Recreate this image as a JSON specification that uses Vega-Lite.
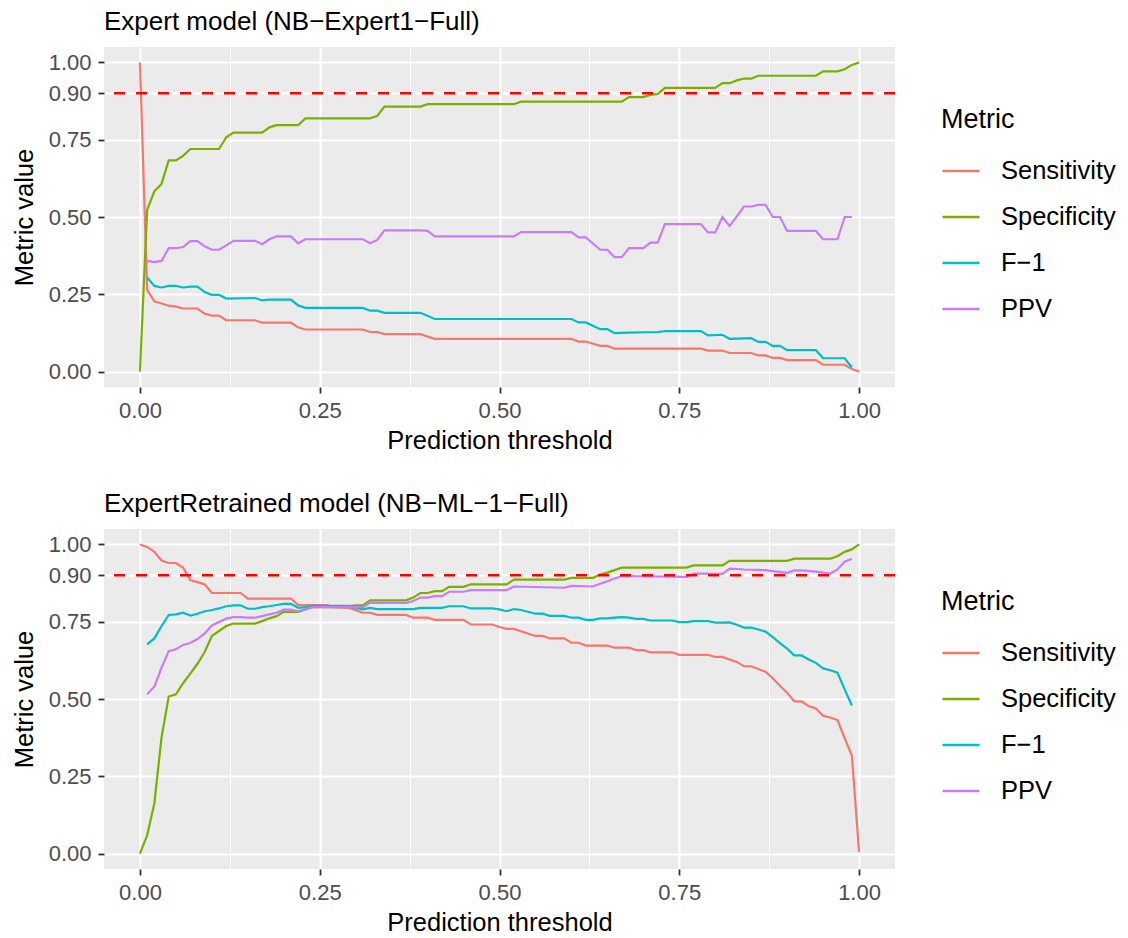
{
  "$schema": "https://vega.github.io/schema/vega-lite/v6.json",
  "padding": {"left": 12, "top": 9, "right": 0, "bottom": 0},
  "config": {
    "font": "Liberation Sans",
    "view": {"fill": "#EBEBEB", "stroke": null},
    "axis": {"domain": false, "gridColor": "#FFFFFF", "tickColor": "#333333", "tickWidth": 1.8, "tickSize": 6, "labelColor": "#4D4D4D", "labelFontSize": 22, "titleFontSize": 25.5, "titleFontWeight": "normal", "titleColor": "#000000", "labelOverlap": false, "labelFlush": false, "labelBound": false},
    "axisX": {"labelPadding": 7, "titlePadding": 7},
    "axisY": {"labelPadding": 7, "titlePadding": 11},
    "title": {"anchor": "start", "fontSize": 26, "fontWeight": "normal", "color": "#000000", "offset": 12, "frame": "group"},
    "legend": {"orient": "none", "legendX": 837, "legendY": 60, "direction": "vertical", "titleFontSize": 27, "titleFontWeight": "normal", "titleColor": "#000000", "labelFontSize": 25.5, "labelColor": "#000000", "symbolType": "stroke", "symbolSize": 1369, "symbolStrokeWidth": 2.5, "clipHeight": 44, "rowPadding": 2, "titlePadding": 15, "labelOffset": 20, "padding": 0},
    "concat": {"spacing": 37}
  },
  "resolve": {"scale": {"color": "independent"}, "legend": {"color": "independent"}},
  "datasets": {
    "expert": [
      {"threshold": 0, "metric": "Sensitivity", "value": 1.0},
      {"threshold": 0.01, "metric": "Sensitivity", "value": 0.264},
      {"threshold": 0.02, "metric": "Sensitivity", "value": 0.227},
      {"threshold": 0.03, "metric": "Sensitivity", "value": 0.22},
      {"threshold": 0.04, "metric": "Sensitivity", "value": 0.213},
      {"threshold": 0.05, "metric": "Sensitivity", "value": 0.21},
      {"threshold": 0.06, "metric": "Sensitivity", "value": 0.204},
      {"threshold": 0.08, "metric": "Sensitivity", "value": 0.204},
      {"threshold": 0.09, "metric": "Sensitivity", "value": 0.187},
      {"threshold": 0.10, "metric": "Sensitivity", "value": 0.181},
      {"threshold": 0.11, "metric": "Sensitivity", "value": 0.181},
      {"threshold": 0.12, "metric": "Sensitivity", "value": 0.166},
      {"threshold": 0.16, "metric": "Sensitivity", "value": 0.166},
      {"threshold": 0.17, "metric": "Sensitivity", "value": 0.158},
      {"threshold": 0.21, "metric": "Sensitivity", "value": 0.158},
      {"threshold": 0.22, "metric": "Sensitivity", "value": 0.143},
      {"threshold": 0.23, "metric": "Sensitivity", "value": 0.136},
      {"threshold": 0.31, "metric": "Sensitivity", "value": 0.136},
      {"threshold": 0.32, "metric": "Sensitivity", "value": 0.128},
      {"threshold": 0.33, "metric": "Sensitivity", "value": 0.128},
      {"threshold": 0.34, "metric": "Sensitivity", "value": 0.121},
      {"threshold": 0.39, "metric": "Sensitivity", "value": 0.121},
      {"threshold": 0.41, "metric": "Sensitivity", "value": 0.106},
      {"threshold": 0.60, "metric": "Sensitivity", "value": 0.106},
      {"threshold": 0.61, "metric": "Sensitivity", "value": 0.097},
      {"threshold": 0.62, "metric": "Sensitivity", "value": 0.097},
      {"threshold": 0.64, "metric": "Sensitivity", "value": 0.083},
      {"threshold": 0.65, "metric": "Sensitivity", "value": 0.083},
      {"threshold": 0.66, "metric": "Sensitivity", "value": 0.074},
      {"threshold": 0.78, "metric": "Sensitivity", "value": 0.074},
      {"threshold": 0.79, "metric": "Sensitivity", "value": 0.068},
      {"threshold": 0.81, "metric": "Sensitivity", "value": 0.068},
      {"threshold": 0.82, "metric": "Sensitivity", "value": 0.060},
      {"threshold": 0.85, "metric": "Sensitivity", "value": 0.060},
      {"threshold": 0.86, "metric": "Sensitivity", "value": 0.052},
      {"threshold": 0.87, "metric": "Sensitivity", "value": 0.052},
      {"threshold": 0.88, "metric": "Sensitivity", "value": 0.044},
      {"threshold": 0.89, "metric": "Sensitivity", "value": 0.044},
      {"threshold": 0.90, "metric": "Sensitivity", "value": 0.037},
      {"threshold": 0.94, "metric": "Sensitivity", "value": 0.037},
      {"threshold": 0.95, "metric": "Sensitivity", "value": 0.022},
      {"threshold": 0.98, "metric": "Sensitivity", "value": 0.022},
      {"threshold": 0.99, "metric": "Sensitivity", "value": 0.008},
      {"threshold": 1.0, "metric": "Sensitivity", "value": 0.0},
      {"threshold": 0, "metric": "Specificity", "value": 0.0},
      {"threshold": 0.01, "metric": "Specificity", "value": 0.523},
      {"threshold": 0.02, "metric": "Specificity", "value": 0.583},
      {"threshold": 0.03, "metric": "Specificity", "value": 0.607},
      {"threshold": 0.04, "metric": "Specificity", "value": 0.683},
      {"threshold": 0.05, "metric": "Specificity", "value": 0.683},
      {"threshold": 0.06, "metric": "Specificity", "value": 0.698},
      {"threshold": 0.07, "metric": "Specificity", "value": 0.72},
      {"threshold": 0.11, "metric": "Specificity", "value": 0.72},
      {"threshold": 0.12, "metric": "Specificity", "value": 0.758},
      {"threshold": 0.13, "metric": "Specificity", "value": 0.773},
      {"threshold": 0.17, "metric": "Specificity", "value": 0.773},
      {"threshold": 0.18, "metric": "Specificity", "value": 0.79},
      {"threshold": 0.19, "metric": "Specificity", "value": 0.797},
      {"threshold": 0.22, "metric": "Specificity", "value": 0.797},
      {"threshold": 0.23, "metric": "Specificity", "value": 0.819},
      {"threshold": 0.32, "metric": "Specificity", "value": 0.819},
      {"threshold": 0.33, "metric": "Specificity", "value": 0.827},
      {"threshold": 0.34, "metric": "Specificity", "value": 0.857},
      {"threshold": 0.39, "metric": "Specificity", "value": 0.857},
      {"threshold": 0.40, "metric": "Specificity", "value": 0.865},
      {"threshold": 0.52, "metric": "Specificity", "value": 0.865},
      {"threshold": 0.53, "metric": "Specificity", "value": 0.873},
      {"threshold": 0.67, "metric": "Specificity", "value": 0.873},
      {"threshold": 0.68, "metric": "Specificity", "value": 0.888},
      {"threshold": 0.70, "metric": "Specificity", "value": 0.888},
      {"threshold": 0.71, "metric": "Specificity", "value": 0.895},
      {"threshold": 0.72, "metric": "Specificity", "value": 0.898},
      {"threshold": 0.73, "metric": "Specificity", "value": 0.918},
      {"threshold": 0.80, "metric": "Specificity", "value": 0.918},
      {"threshold": 0.81, "metric": "Specificity", "value": 0.933},
      {"threshold": 0.82, "metric": "Specificity", "value": 0.933},
      {"threshold": 0.83, "metric": "Specificity", "value": 0.942},
      {"threshold": 0.84, "metric": "Specificity", "value": 0.948},
      {"threshold": 0.85, "metric": "Specificity", "value": 0.948},
      {"threshold": 0.86, "metric": "Specificity", "value": 0.957},
      {"threshold": 0.94, "metric": "Specificity", "value": 0.957},
      {"threshold": 0.95, "metric": "Specificity", "value": 0.971},
      {"threshold": 0.97, "metric": "Specificity", "value": 0.971},
      {"threshold": 0.98, "metric": "Specificity", "value": 0.978},
      {"threshold": 0.99, "metric": "Specificity", "value": 0.992},
      {"threshold": 1.0, "metric": "Specificity", "value": 1.0},
      {"threshold": 0.01, "metric": "F−1", "value": 0.304},
      {"threshold": 0.02, "metric": "F−1", "value": 0.277},
      {"threshold": 0.03, "metric": "F−1", "value": 0.272},
      {"threshold": 0.04, "metric": "F−1", "value": 0.277},
      {"threshold": 0.05, "metric": "F−1", "value": 0.277},
      {"threshold": 0.06, "metric": "F−1", "value": 0.272},
      {"threshold": 0.07, "metric": "F−1", "value": 0.275},
      {"threshold": 0.08, "metric": "F−1", "value": 0.275},
      {"threshold": 0.09, "metric": "F−1", "value": 0.257},
      {"threshold": 0.10, "metric": "F−1", "value": 0.248},
      {"threshold": 0.11, "metric": "F−1", "value": 0.248},
      {"threshold": 0.12, "metric": "F−1", "value": 0.236},
      {"threshold": 0.16, "metric": "F−1", "value": 0.238},
      {"threshold": 0.17, "metric": "F−1", "value": 0.230},
      {"threshold": 0.18, "metric": "F−1", "value": 0.233},
      {"threshold": 0.21, "metric": "F−1", "value": 0.233},
      {"threshold": 0.22, "metric": "F−1", "value": 0.214},
      {"threshold": 0.23, "metric": "F−1", "value": 0.206},
      {"threshold": 0.31, "metric": "F−1", "value": 0.206},
      {"threshold": 0.32, "metric": "F−1", "value": 0.197},
      {"threshold": 0.33, "metric": "F−1", "value": 0.197},
      {"threshold": 0.34, "metric": "F−1", "value": 0.190},
      {"threshold": 0.39, "metric": "F−1", "value": 0.190},
      {"threshold": 0.41, "metric": "F−1", "value": 0.170},
      {"threshold": 0.60, "metric": "F−1", "value": 0.170},
      {"threshold": 0.61, "metric": "F−1", "value": 0.159},
      {"threshold": 0.62, "metric": "F−1", "value": 0.159},
      {"threshold": 0.64, "metric": "F−1", "value": 0.137},
      {"threshold": 0.65, "metric": "F−1", "value": 0.137},
      {"threshold": 0.66, "metric": "F−1", "value": 0.124},
      {"threshold": 0.68, "metric": "F−1", "value": 0.126},
      {"threshold": 0.72, "metric": "F−1", "value": 0.128},
      {"threshold": 0.73, "metric": "F−1", "value": 0.131},
      {"threshold": 0.78, "metric": "F−1", "value": 0.131},
      {"threshold": 0.79, "metric": "F−1", "value": 0.117},
      {"threshold": 0.81, "metric": "F−1", "value": 0.119},
      {"threshold": 0.82, "metric": "F−1", "value": 0.106},
      {"threshold": 0.85, "metric": "F−1", "value": 0.108},
      {"threshold": 0.86, "metric": "F−1", "value": 0.096},
      {"threshold": 0.87, "metric": "F−1", "value": 0.096},
      {"threshold": 0.88, "metric": "F−1", "value": 0.083},
      {"threshold": 0.89, "metric": "F−1", "value": 0.083},
      {"threshold": 0.90, "metric": "F−1", "value": 0.069},
      {"threshold": 0.94, "metric": "F−1", "value": 0.069},
      {"threshold": 0.95, "metric": "F−1", "value": 0.043},
      {"threshold": 0.98, "metric": "F−1", "value": 0.043},
      {"threshold": 0.99, "metric": "F−1", "value": 0.013},
      {"threshold": 0.01, "metric": "PPV", "value": 0.358},
      {"threshold": 0.02, "metric": "PPV", "value": 0.354},
      {"threshold": 0.03, "metric": "PPV", "value": 0.358},
      {"threshold": 0.04, "metric": "PPV", "value": 0.399},
      {"threshold": 0.05, "metric": "PPV", "value": 0.399},
      {"threshold": 0.06, "metric": "PPV", "value": 0.403},
      {"threshold": 0.07, "metric": "PPV", "value": 0.422},
      {"threshold": 0.08, "metric": "PPV", "value": 0.422},
      {"threshold": 0.09, "metric": "PPV", "value": 0.405},
      {"threshold": 0.10, "metric": "PPV", "value": 0.394},
      {"threshold": 0.11, "metric": "PPV", "value": 0.394},
      {"threshold": 0.12, "metric": "PPV", "value": 0.408},
      {"threshold": 0.13, "metric": "PPV", "value": 0.423},
      {"threshold": 0.16, "metric": "PPV", "value": 0.423},
      {"threshold": 0.17, "metric": "PPV", "value": 0.412},
      {"threshold": 0.18, "metric": "PPV", "value": 0.428},
      {"threshold": 0.19, "metric": "PPV", "value": 0.437},
      {"threshold": 0.21, "metric": "PPV", "value": 0.437},
      {"threshold": 0.22, "metric": "PPV", "value": 0.415},
      {"threshold": 0.23, "metric": "PPV", "value": 0.428},
      {"threshold": 0.31, "metric": "PPV", "value": 0.428},
      {"threshold": 0.32, "metric": "PPV", "value": 0.415},
      {"threshold": 0.33, "metric": "PPV", "value": 0.426},
      {"threshold": 0.34, "metric": "PPV", "value": 0.457},
      {"threshold": 0.39, "metric": "PPV", "value": 0.457},
      {"threshold": 0.40, "metric": "PPV", "value": 0.455},
      {"threshold": 0.41, "metric": "PPV", "value": 0.437},
      {"threshold": 0.52, "metric": "PPV", "value": 0.437},
      {"threshold": 0.53, "metric": "PPV", "value": 0.451},
      {"threshold": 0.60, "metric": "PPV", "value": 0.451},
      {"threshold": 0.61, "metric": "PPV", "value": 0.434},
      {"threshold": 0.62, "metric": "PPV", "value": 0.434},
      {"threshold": 0.64, "metric": "PPV", "value": 0.394},
      {"threshold": 0.65, "metric": "PPV", "value": 0.394},
      {"threshold": 0.66, "metric": "PPV", "value": 0.370},
      {"threshold": 0.67, "metric": "PPV", "value": 0.370},
      {"threshold": 0.68, "metric": "PPV", "value": 0.399},
      {"threshold": 0.70, "metric": "PPV", "value": 0.399},
      {"threshold": 0.71, "metric": "PPV", "value": 0.417},
      {"threshold": 0.72, "metric": "PPV", "value": 0.417},
      {"threshold": 0.73, "metric": "PPV", "value": 0.477},
      {"threshold": 0.78, "metric": "PPV", "value": 0.477},
      {"threshold": 0.79, "metric": "PPV", "value": 0.450},
      {"threshold": 0.80, "metric": "PPV", "value": 0.450},
      {"threshold": 0.81, "metric": "PPV", "value": 0.500},
      {"threshold": 0.82, "metric": "PPV", "value": 0.471},
      {"threshold": 0.83, "metric": "PPV", "value": 0.502},
      {"threshold": 0.84, "metric": "PPV", "value": 0.534},
      {"threshold": 0.85, "metric": "PPV", "value": 0.534},
      {"threshold": 0.86, "metric": "PPV", "value": 0.539},
      {"threshold": 0.87, "metric": "PPV", "value": 0.539},
      {"threshold": 0.88, "metric": "PPV", "value": 0.500},
      {"threshold": 0.89, "metric": "PPV", "value": 0.500},
      {"threshold": 0.90, "metric": "PPV", "value": 0.455},
      {"threshold": 0.94, "metric": "PPV", "value": 0.455},
      {"threshold": 0.95, "metric": "PPV", "value": 0.428},
      {"threshold": 0.97, "metric": "PPV", "value": 0.428},
      {"threshold": 0.98, "metric": "PPV", "value": 0.500},
      {"threshold": 0.99, "metric": "PPV", "value": 0.500}
    ],
    "retrained": [
      {"threshold": 0, "metric": "Sensitivity", "value": 1.0},
      {"threshold": 0.01, "metric": "Sensitivity", "value": 0.992},
      {"threshold": 0.02, "metric": "Sensitivity", "value": 0.976},
      {"threshold": 0.03, "metric": "Sensitivity", "value": 0.948},
      {"threshold": 0.04, "metric": "Sensitivity", "value": 0.940},
      {"threshold": 0.05, "metric": "Sensitivity", "value": 0.940},
      {"threshold": 0.06, "metric": "Sensitivity", "value": 0.925},
      {"threshold": 0.07, "metric": "Sensitivity", "value": 0.885},
      {"threshold": 0.08, "metric": "Sensitivity", "value": 0.878},
      {"threshold": 0.09, "metric": "Sensitivity", "value": 0.871},
      {"threshold": 0.10, "metric": "Sensitivity", "value": 0.843},
      {"threshold": 0.14, "metric": "Sensitivity", "value": 0.843},
      {"threshold": 0.15, "metric": "Sensitivity", "value": 0.825},
      {"threshold": 0.21, "metric": "Sensitivity", "value": 0.825},
      {"threshold": 0.22, "metric": "Sensitivity", "value": 0.804},
      {"threshold": 0.26, "metric": "Sensitivity", "value": 0.804},
      {"threshold": 0.27, "metric": "Sensitivity", "value": 0.797},
      {"threshold": 0.29, "metric": "Sensitivity", "value": 0.795},
      {"threshold": 0.30, "metric": "Sensitivity", "value": 0.787},
      {"threshold": 0.31, "metric": "Sensitivity", "value": 0.779},
      {"threshold": 0.32, "metric": "Sensitivity", "value": 0.779},
      {"threshold": 0.33, "metric": "Sensitivity", "value": 0.772},
      {"threshold": 0.37, "metric": "Sensitivity", "value": 0.772},
      {"threshold": 0.38, "metric": "Sensitivity", "value": 0.763},
      {"threshold": 0.40, "metric": "Sensitivity", "value": 0.763},
      {"threshold": 0.41, "metric": "Sensitivity", "value": 0.756},
      {"threshold": 0.45, "metric": "Sensitivity", "value": 0.756},
      {"threshold": 0.46, "metric": "Sensitivity", "value": 0.741},
      {"threshold": 0.49, "metric": "Sensitivity", "value": 0.741},
      {"threshold": 0.50, "metric": "Sensitivity", "value": 0.733},
      {"threshold": 0.51, "metric": "Sensitivity", "value": 0.727},
      {"threshold": 0.52, "metric": "Sensitivity", "value": 0.727},
      {"threshold": 0.55, "metric": "Sensitivity", "value": 0.704},
      {"threshold": 0.56, "metric": "Sensitivity", "value": 0.704},
      {"threshold": 0.57, "metric": "Sensitivity", "value": 0.696},
      {"threshold": 0.59, "metric": "Sensitivity", "value": 0.696},
      {"threshold": 0.60, "metric": "Sensitivity", "value": 0.682},
      {"threshold": 0.61, "metric": "Sensitivity", "value": 0.682},
      {"threshold": 0.62, "metric": "Sensitivity", "value": 0.673},
      {"threshold": 0.65, "metric": "Sensitivity", "value": 0.673},
      {"threshold": 0.66, "metric": "Sensitivity", "value": 0.666},
      {"threshold": 0.68, "metric": "Sensitivity", "value": 0.666},
      {"threshold": 0.69, "metric": "Sensitivity", "value": 0.658},
      {"threshold": 0.70, "metric": "Sensitivity", "value": 0.658},
      {"threshold": 0.71, "metric": "Sensitivity", "value": 0.651},
      {"threshold": 0.74, "metric": "Sensitivity", "value": 0.651},
      {"threshold": 0.75, "metric": "Sensitivity", "value": 0.643},
      {"threshold": 0.79, "metric": "Sensitivity", "value": 0.643},
      {"threshold": 0.80, "metric": "Sensitivity", "value": 0.636},
      {"threshold": 0.81, "metric": "Sensitivity", "value": 0.636},
      {"threshold": 0.82, "metric": "Sensitivity", "value": 0.628},
      {"threshold": 0.83, "metric": "Sensitivity", "value": 0.620},
      {"threshold": 0.84, "metric": "Sensitivity", "value": 0.606},
      {"threshold": 0.85, "metric": "Sensitivity", "value": 0.606},
      {"threshold": 0.86, "metric": "Sensitivity", "value": 0.597},
      {"threshold": 0.87, "metric": "Sensitivity", "value": 0.588},
      {"threshold": 0.88, "metric": "Sensitivity", "value": 0.567},
      {"threshold": 0.89, "metric": "Sensitivity", "value": 0.543},
      {"threshold": 0.90, "metric": "Sensitivity", "value": 0.520},
      {"threshold": 0.91, "metric": "Sensitivity", "value": 0.492},
      {"threshold": 0.92, "metric": "Sensitivity", "value": 0.492},
      {"threshold": 0.93, "metric": "Sensitivity", "value": 0.477},
      {"threshold": 0.94, "metric": "Sensitivity", "value": 0.469},
      {"threshold": 0.95, "metric": "Sensitivity", "value": 0.446},
      {"threshold": 0.96, "metric": "Sensitivity", "value": 0.440},
      {"threshold": 0.97, "metric": "Sensitivity", "value": 0.432},
      {"threshold": 0.98, "metric": "Sensitivity", "value": 0.373},
      {"threshold": 0.99, "metric": "Sensitivity", "value": 0.317},
      {"threshold": 1.0, "metric": "Sensitivity", "value": 0.005},
      {"threshold": 0, "metric": "Specificity", "value": 0.0},
      {"threshold": 0.01, "metric": "Specificity", "value": 0.059},
      {"threshold": 0.02, "metric": "Specificity", "value": 0.162},
      {"threshold": 0.03, "metric": "Specificity", "value": 0.375},
      {"threshold": 0.04, "metric": "Specificity", "value": 0.508},
      {"threshold": 0.05, "metric": "Specificity", "value": 0.515},
      {"threshold": 0.06, "metric": "Specificity", "value": 0.551},
      {"threshold": 0.07, "metric": "Specificity", "value": 0.582},
      {"threshold": 0.08, "metric": "Specificity", "value": 0.614},
      {"threshold": 0.09, "metric": "Specificity", "value": 0.652},
      {"threshold": 0.10, "metric": "Specificity", "value": 0.704},
      {"threshold": 0.11, "metric": "Specificity", "value": 0.720},
      {"threshold": 0.12, "metric": "Specificity", "value": 0.736},
      {"threshold": 0.13, "metric": "Specificity", "value": 0.744},
      {"threshold": 0.16, "metric": "Specificity", "value": 0.744},
      {"threshold": 0.17, "metric": "Specificity", "value": 0.752},
      {"threshold": 0.18, "metric": "Specificity", "value": 0.761},
      {"threshold": 0.19, "metric": "Specificity", "value": 0.768},
      {"threshold": 0.20, "metric": "Specificity", "value": 0.782},
      {"threshold": 0.22, "metric": "Specificity", "value": 0.782},
      {"threshold": 0.23, "metric": "Specificity", "value": 0.790},
      {"threshold": 0.24, "metric": "Specificity", "value": 0.797},
      {"threshold": 0.28, "metric": "Specificity", "value": 0.797},
      {"threshold": 0.30, "metric": "Specificity", "value": 0.803},
      {"threshold": 0.31, "metric": "Specificity", "value": 0.803},
      {"threshold": 0.32, "metric": "Specificity", "value": 0.819},
      {"threshold": 0.37, "metric": "Specificity", "value": 0.819},
      {"threshold": 0.38, "metric": "Specificity", "value": 0.828},
      {"threshold": 0.39, "metric": "Specificity", "value": 0.843},
      {"threshold": 0.40, "metric": "Specificity", "value": 0.843},
      {"threshold": 0.41, "metric": "Specificity", "value": 0.849},
      {"threshold": 0.42, "metric": "Specificity", "value": 0.849},
      {"threshold": 0.43, "metric": "Specificity", "value": 0.863},
      {"threshold": 0.45, "metric": "Specificity", "value": 0.863},
      {"threshold": 0.46, "metric": "Specificity", "value": 0.871},
      {"threshold": 0.51, "metric": "Specificity", "value": 0.871},
      {"threshold": 0.52, "metric": "Specificity", "value": 0.886},
      {"threshold": 0.59, "metric": "Specificity", "value": 0.886},
      {"threshold": 0.60, "metric": "Specificity", "value": 0.892},
      {"threshold": 0.63, "metric": "Specificity", "value": 0.892},
      {"threshold": 0.64, "metric": "Specificity", "value": 0.903},
      {"threshold": 0.65, "metric": "Specificity", "value": 0.909},
      {"threshold": 0.66, "metric": "Specificity", "value": 0.917},
      {"threshold": 0.67, "metric": "Specificity", "value": 0.925},
      {"threshold": 0.76, "metric": "Specificity", "value": 0.925},
      {"threshold": 0.77, "metric": "Specificity", "value": 0.932},
      {"threshold": 0.81, "metric": "Specificity", "value": 0.932},
      {"threshold": 0.82, "metric": "Specificity", "value": 0.947},
      {"threshold": 0.90, "metric": "Specificity", "value": 0.947},
      {"threshold": 0.91, "metric": "Specificity", "value": 0.954},
      {"threshold": 0.96, "metric": "Specificity", "value": 0.954},
      {"threshold": 0.97, "metric": "Specificity", "value": 0.962},
      {"threshold": 0.98, "metric": "Specificity", "value": 0.976},
      {"threshold": 0.99, "metric": "Specificity", "value": 0.984},
      {"threshold": 1.0, "metric": "Specificity", "value": 1.0},
      {"threshold": 0.01, "metric": "F−1", "value": 0.677},
      {"threshold": 0.02, "metric": "F−1", "value": 0.696},
      {"threshold": 0.03, "metric": "F−1", "value": 0.736},
      {"threshold": 0.04, "metric": "F−1", "value": 0.772},
      {"threshold": 0.05, "metric": "F−1", "value": 0.774},
      {"threshold": 0.06, "metric": "F−1", "value": 0.779},
      {"threshold": 0.07, "metric": "F−1", "value": 0.770},
      {"threshold": 0.08, "metric": "F−1", "value": 0.776},
      {"threshold": 0.09, "metric": "F−1", "value": 0.784},
      {"threshold": 0.10, "metric": "F−1", "value": 0.788},
      {"threshold": 0.11, "metric": "F−1", "value": 0.793},
      {"threshold": 0.12, "metric": "F−1", "value": 0.800},
      {"threshold": 0.13, "metric": "F−1", "value": 0.803},
      {"threshold": 0.14, "metric": "F−1", "value": 0.803},
      {"threshold": 0.15, "metric": "F−1", "value": 0.792},
      {"threshold": 0.16, "metric": "F−1", "value": 0.792},
      {"threshold": 0.17, "metric": "F−1", "value": 0.797},
      {"threshold": 0.18, "metric": "F−1", "value": 0.800},
      {"threshold": 0.19, "metric": "F−1", "value": 0.804},
      {"threshold": 0.20, "metric": "F−1", "value": 0.808},
      {"threshold": 0.21, "metric": "F−1", "value": 0.808},
      {"threshold": 0.22, "metric": "F−1", "value": 0.795},
      {"threshold": 0.23, "metric": "F−1", "value": 0.797},
      {"threshold": 0.24, "metric": "F−1", "value": 0.801},
      {"threshold": 0.29, "metric": "F−1", "value": 0.801},
      {"threshold": 0.30, "metric": "F−1", "value": 0.795},
      {"threshold": 0.31, "metric": "F−1", "value": 0.790},
      {"threshold": 0.32, "metric": "F−1", "value": 0.795},
      {"threshold": 0.33, "metric": "F−1", "value": 0.791},
      {"threshold": 0.38, "metric": "F−1", "value": 0.791},
      {"threshold": 0.39, "metric": "F−1", "value": 0.795},
      {"threshold": 0.42, "metric": "F−1", "value": 0.795},
      {"threshold": 0.43, "metric": "F−1", "value": 0.800},
      {"threshold": 0.45, "metric": "F−1", "value": 0.800},
      {"threshold": 0.46, "metric": "F−1", "value": 0.793},
      {"threshold": 0.49, "metric": "F−1", "value": 0.793},
      {"threshold": 0.50, "metric": "F−1", "value": 0.790},
      {"threshold": 0.51, "metric": "F−1", "value": 0.784},
      {"threshold": 0.52, "metric": "F−1", "value": 0.791},
      {"threshold": 0.53, "metric": "F−1", "value": 0.788},
      {"threshold": 0.55, "metric": "F−1", "value": 0.776},
      {"threshold": 0.56, "metric": "F−1", "value": 0.776},
      {"threshold": 0.57, "metric": "F−1", "value": 0.769},
      {"threshold": 0.59, "metric": "F−1", "value": 0.769},
      {"threshold": 0.60, "metric": "F−1", "value": 0.763},
      {"threshold": 0.61, "metric": "F−1", "value": 0.763},
      {"threshold": 0.62, "metric": "F−1", "value": 0.756},
      {"threshold": 0.63, "metric": "F−1", "value": 0.756},
      {"threshold": 0.64, "metric": "F−1", "value": 0.761},
      {"threshold": 0.65, "metric": "F−1", "value": 0.761},
      {"threshold": 0.66, "metric": "F−1", "value": 0.763},
      {"threshold": 0.67, "metric": "F−1", "value": 0.765},
      {"threshold": 0.68, "metric": "F−1", "value": 0.763},
      {"threshold": 0.69, "metric": "F−1", "value": 0.759},
      {"threshold": 0.70, "metric": "F−1", "value": 0.759},
      {"threshold": 0.71, "metric": "F−1", "value": 0.754},
      {"threshold": 0.74, "metric": "F−1", "value": 0.754},
      {"threshold": 0.75, "metric": "F−1", "value": 0.749},
      {"threshold": 0.76, "metric": "F−1", "value": 0.749},
      {"threshold": 0.77, "metric": "F−1", "value": 0.752},
      {"threshold": 0.79, "metric": "F−1", "value": 0.752},
      {"threshold": 0.80, "metric": "F−1", "value": 0.747},
      {"threshold": 0.81, "metric": "F−1", "value": 0.747},
      {"threshold": 0.82, "metric": "F−1", "value": 0.748},
      {"threshold": 0.83, "metric": "F−1", "value": 0.740},
      {"threshold": 0.84, "metric": "F−1", "value": 0.731},
      {"threshold": 0.85, "metric": "F−1", "value": 0.731},
      {"threshold": 0.86, "metric": "F−1", "value": 0.725},
      {"threshold": 0.87, "metric": "F−1", "value": 0.718},
      {"threshold": 0.88, "metric": "F−1", "value": 0.700},
      {"threshold": 0.89, "metric": "F−1", "value": 0.681},
      {"threshold": 0.90, "metric": "F−1", "value": 0.663},
      {"threshold": 0.91, "metric": "F−1", "value": 0.641},
      {"threshold": 0.92, "metric": "F−1", "value": 0.641},
      {"threshold": 0.93, "metric": "F−1", "value": 0.628},
      {"threshold": 0.94, "metric": "F−1", "value": 0.617},
      {"threshold": 0.95, "metric": "F−1", "value": 0.599},
      {"threshold": 0.96, "metric": "F−1", "value": 0.593},
      {"threshold": 0.97, "metric": "F−1", "value": 0.585},
      {"threshold": 0.98, "metric": "F−1", "value": 0.531},
      {"threshold": 0.99, "metric": "F−1", "value": 0.479},
      {"threshold": 0.01, "metric": "PPV", "value": 0.515},
      {"threshold": 0.02, "metric": "PPV", "value": 0.540},
      {"threshold": 0.03, "metric": "PPV", "value": 0.601},
      {"threshold": 0.04, "metric": "PPV", "value": 0.655},
      {"threshold": 0.05, "metric": "PPV", "value": 0.661},
      {"threshold": 0.06, "metric": "PPV", "value": 0.675},
      {"threshold": 0.07, "metric": "PPV", "value": 0.681},
      {"threshold": 0.08, "metric": "PPV", "value": 0.694},
      {"threshold": 0.09, "metric": "PPV", "value": 0.712},
      {"threshold": 0.10, "metric": "PPV", "value": 0.738},
      {"threshold": 0.11, "metric": "PPV", "value": 0.749},
      {"threshold": 0.12, "metric": "PPV", "value": 0.760},
      {"threshold": 0.13, "metric": "PPV", "value": 0.765},
      {"threshold": 0.14, "metric": "PPV", "value": 0.765},
      {"threshold": 0.15, "metric": "PPV", "value": 0.763},
      {"threshold": 0.16, "metric": "PPV", "value": 0.763},
      {"threshold": 0.17, "metric": "PPV", "value": 0.768},
      {"threshold": 0.18, "metric": "PPV", "value": 0.774},
      {"threshold": 0.19, "metric": "PPV", "value": 0.779},
      {"threshold": 0.20, "metric": "PPV", "value": 0.789},
      {"threshold": 0.21, "metric": "PPV", "value": 0.789},
      {"threshold": 0.22, "metric": "PPV", "value": 0.784},
      {"threshold": 0.23, "metric": "PPV", "value": 0.790},
      {"threshold": 0.24, "metric": "PPV", "value": 0.797},
      {"threshold": 0.31, "metric": "PPV", "value": 0.797},
      {"threshold": 0.32, "metric": "PPV", "value": 0.811},
      {"threshold": 0.37, "metric": "PPV", "value": 0.811},
      {"threshold": 0.38, "metric": "PPV", "value": 0.817},
      {"threshold": 0.39, "metric": "PPV", "value": 0.828},
      {"threshold": 0.40, "metric": "PPV", "value": 0.828},
      {"threshold": 0.41, "metric": "PPV", "value": 0.833},
      {"threshold": 0.42, "metric": "PPV", "value": 0.833},
      {"threshold": 0.43, "metric": "PPV", "value": 0.847},
      {"threshold": 0.45, "metric": "PPV", "value": 0.847},
      {"threshold": 0.46, "metric": "PPV", "value": 0.852},
      {"threshold": 0.51, "metric": "PPV", "value": 0.852},
      {"threshold": 0.52, "metric": "PPV", "value": 0.864},
      {"threshold": 0.59, "metric": "PPV", "value": 0.860},
      {"threshold": 0.60, "metric": "PPV", "value": 0.866},
      {"threshold": 0.63, "metric": "PPV", "value": 0.864},
      {"threshold": 0.64, "metric": "PPV", "value": 0.873},
      {"threshold": 0.65, "metric": "PPV", "value": 0.881},
      {"threshold": 0.66, "metric": "PPV", "value": 0.890},
      {"threshold": 0.67, "metric": "PPV", "value": 0.898},
      {"threshold": 0.76, "metric": "PPV", "value": 0.895},
      {"threshold": 0.77, "metric": "PPV", "value": 0.906},
      {"threshold": 0.81, "metric": "PPV", "value": 0.905},
      {"threshold": 0.82, "metric": "PPV", "value": 0.922},
      {"threshold": 0.84, "metric": "PPV", "value": 0.919},
      {"threshold": 0.87, "metric": "PPV", "value": 0.917},
      {"threshold": 0.88, "metric": "PPV", "value": 0.914},
      {"threshold": 0.90, "metric": "PPV", "value": 0.908},
      {"threshold": 0.91, "metric": "PPV", "value": 0.916},
      {"threshold": 0.92, "metric": "PPV", "value": 0.916},
      {"threshold": 0.94, "metric": "PPV", "value": 0.912},
      {"threshold": 0.96, "metric": "PPV", "value": 0.906},
      {"threshold": 0.97, "metric": "PPV", "value": 0.919},
      {"threshold": 0.98, "metric": "PPV", "value": 0.944},
      {"threshold": 0.99, "metric": "PPV", "value": 0.954}
    ],
    "cutoff": [{"value": 0.9}]
  },
  "vconcat": [
    {
      "title": {"text": "Expert model (NB−Expert1−Full)"},
      "width": 791,
      "height": 340,
      "layer": [
        {
          "data": {"name": "expert"},
          "mark": {"type": "line", "strokeWidth": 2.2},
          "encoding": {
            "x": {"field": "threshold", "type": "quantitative", "title": "Prediction threshold",
              "scale": {"domain": [-0.05, 1.05], "nice": false, "zero": false},
              "axis": {"values": [0, 0.125, 0.25, 0.375, 0.5, 0.625, 0.75, 0.875, 1], "format": ".2f",
                "labelExpr": "datum.value % 0.25 == 0 ? datum.label : ''",
                "gridWidth": {"condition": {"test": "datum.value % 0.25 != 0", "value": 1}, "value": 2},
                "tickOpacity": {"condition": {"test": "datum.value % 0.25 != 0", "value": 0}, "value": 1}}},
            "y": {"field": "value", "type": "quantitative", "title": "Metric value",
              "scale": {"domain": [-0.05, 1.05], "nice": false, "zero": false},
              "axis": {"values": [0, 0.125, 0.25, 0.375, 0.5, 0.625, 0.75, 0.825, 0.9, 0.95, 1], "format": ".2f",
                "labelExpr": "indexof([0.125,0.375,0.625,0.825,0.95], datum.value) >= 0 ? '' : datum.label",
                "gridWidth": {"condition": {"test": "indexof([0.125,0.375,0.625,0.825,0.95], datum.value) >= 0", "value": 1}, "value": 2},
                "tickOpacity": {"condition": {"test": "indexof([0.125,0.375,0.625,0.825,0.95], datum.value) >= 0", "value": 0}, "value": 1}}},
            "color": {"field": "metric", "type": "nominal", "title": "Metric",
              "scale": {"domain": ["Sensitivity", "Specificity", "F−1", "PPV"], "range": ["#F8766D", "#7CAE00", "#00BFC4", "#C77CFF"]}}
          }
        },
        {
          "data": {"name": "cutoff"},
          "mark": {"type": "rule", "color": "#FF0000", "strokeDash": [11, 11], "strokeWidth": 2.5},
          "encoding": {"y": {"field": "value", "type": "quantitative"}}
        }
      ]
    },
    {
      "title": {"text": "ExpertRetrained model (NB−ML−1−Full)"},
      "width": 791,
      "height": 340,
      "layer": [
        {
          "data": {"name": "retrained"},
          "mark": {"type": "line", "strokeWidth": 2.2},
          "encoding": {
            "x": {"field": "threshold", "type": "quantitative", "title": "Prediction threshold",
              "scale": {"domain": [-0.05, 1.05], "nice": false, "zero": false},
              "axis": {"values": [0, 0.125, 0.25, 0.375, 0.5, 0.625, 0.75, 0.875, 1], "format": ".2f",
                "labelExpr": "datum.value % 0.25 == 0 ? datum.label : ''",
                "gridWidth": {"condition": {"test": "datum.value % 0.25 != 0", "value": 1}, "value": 2},
                "tickOpacity": {"condition": {"test": "datum.value % 0.25 != 0", "value": 0}, "value": 1}}},
            "y": {"field": "value", "type": "quantitative", "title": "Metric value",
              "scale": {"domain": [-0.05, 1.05], "nice": false, "zero": false},
              "axis": {"values": [0, 0.125, 0.25, 0.375, 0.5, 0.625, 0.75, 0.825, 0.9, 0.95, 1], "format": ".2f",
                "labelExpr": "indexof([0.125,0.375,0.625,0.825,0.95], datum.value) >= 0 ? '' : datum.label",
                "gridWidth": {"condition": {"test": "indexof([0.125,0.375,0.625,0.825,0.95], datum.value) >= 0", "value": 1}, "value": 2},
                "tickOpacity": {"condition": {"test": "indexof([0.125,0.375,0.625,0.825,0.95], datum.value) >= 0", "value": 0}, "value": 1}}},
            "color": {"field": "metric", "type": "nominal", "title": "Metric",
              "scale": {"domain": ["Sensitivity", "Specificity", "F−1", "PPV"], "range": ["#F8766D", "#7CAE00", "#00BFC4", "#C77CFF"]}}
          }
        },
        {
          "data": {"name": "cutoff"},
          "mark": {"type": "rule", "color": "#FF0000", "strokeDash": [11, 11], "strokeWidth": 2.5},
          "encoding": {"y": {"field": "value", "type": "quantitative"}}
        }
      ]
    }
  ]
}
